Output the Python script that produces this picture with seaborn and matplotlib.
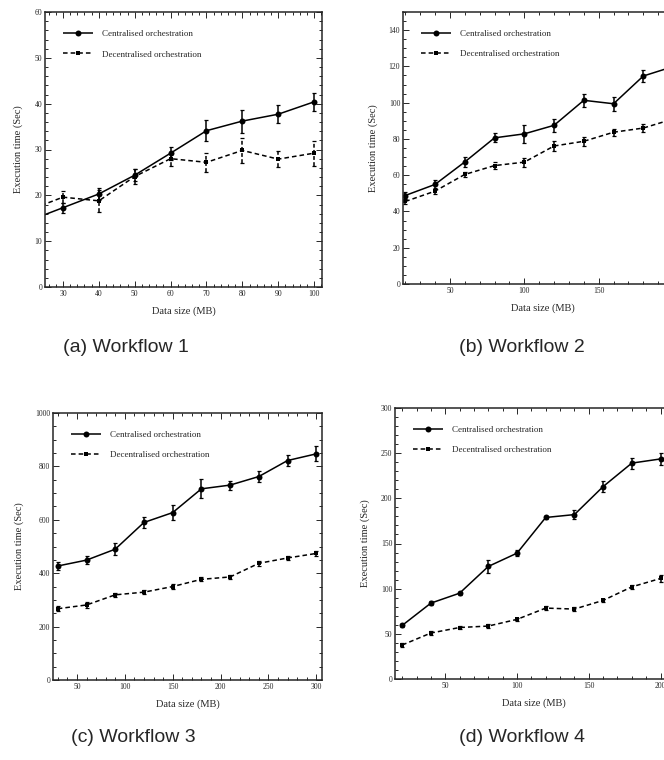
"""Execution time vs data size for four workflows (centralised vs decentralised)."""
import pandas as pd
import seaborn as sns
import matplotlib
matplotlib.use("Agg")
import matplotlib.pyplot as plt
from matplotlib.ticker import AutoMinorLocator, MultipleLocator

SCHEMES = ["Centralised orchestration", "Decentralised orchestration"]

# workflow 1 (first point sits left of the visible axis range)
wf1_size = [20, 30, 40, 50, 60, 70, 80, 90, 100]
wf1_cen = [14.3, 17.3, 20.3, 24.4, 29.2, 34.1, 36.2, 37.7, 40.4]
wf1_cen_err = [1.0, 1.1, 1.3, 1.3, 1.45, 2.3, 2.5, 2.0, 2.0]
wf1_dec = [16.6, 19.6, 18.8, 24.1, 28.0, 27.2, 29.8, 27.9, 29.2]
wf1_dec_err = [1.0, 1.3, 2.4, 1.6, 1.5, 2.1, 2.7, 1.8, 2.7]

# workflow 2
wf2_size = [20, 40, 60, 80, 100, 120, 140, 160, 180, 200]
wf2_cen = [48.8, 54.9, 67.3, 80.6, 82.8, 87.5, 101.3, 99.4, 114.7, 119.9]
wf2_cen_err = [2.0, 2.5, 3.0, 2.5, 5.0, 3.5, 3.5, 4.0, 3.5, 3.0]
wf2_dec = [45.5, 51.2, 60.4, 65.3, 67.2, 76.1, 78.7, 83.7, 86.0, 91.0]
wf2_dec_err = [1.2, 1.5, 1.2, 2.0, 2.5, 3.0, 2.5, 2.0, 2.0, 2.0]

# workflow 3
wf3_size = [30, 60, 90, 120, 150, 180, 210, 240, 270, 300]
wf3_cen = [427, 449, 490, 590, 627, 716, 730, 762, 822, 847]
wf3_cen_err = [15, 15, 22, 20, 28, 35, 17, 22, 20, 28]
wf3_dec = [267, 281, 319, 329, 350, 377, 386, 437, 457, 474]
wf3_dec_err = [10, 10, 8, 8, 8, 8, 8, 10, 8, 10]

# workflow 4
wf4_size = [20, 40, 60, 80, 100, 120, 140, 160, 180, 200]
wf4_cen = [59.3, 84.0, 95.0, 124.6, 139.3, 178.8, 182.0, 213.0, 239.0, 243.6]
wf4_cen_err = [1.5, 2.0, 1.5, 7.0, 3.0, 2.0, 5.0, 6.5, 6.0, 7.0]
wf4_dec = [37.6, 50.9, 57.0, 58.6, 66.0, 78.5, 77.4, 87.0, 102.0, 111.3]
wf4_dec_err = [2.0, 2.0, 2.0, 2.0, 2.0, 2.0, 2.0, 2.0, 2.0, 4.0]

CAPTIONS = ["(a) Workflow 1", "(b) Workflow 2", "(c) Workflow 3", "(d) Workflow 4"]

W, H = 664, 760


def px_rect(left, top, right, bottom):
    return [left / W, 1 - bottom / H, (right - left) / W, (bottom - top) / H]


PANELS = [
    dict(size=wf1_size, cen=wf1_cen, ce=wf1_cen_err, dec=wf1_dec, de=wf1_dec_err,
         rect=px_rect(45, 12, 322, 287), xlim=(25, 102.2), ylim=(0, 60),
         xmaj=10, xmin=5, ymaj=10, ymin=5, cap=(126, 348)),
    dict(size=wf2_size, cen=wf2_cen, ce=wf2_cen_err, dec=wf2_dec, de=wf2_dec_err,
         rect=px_rect(403, 12, 682, 284), xlim=(18.5, 206), ylim=(0, 150),
         xmaj=50, xmin=5, ymaj=20, ymin=4, cap=(522, 348)),
    dict(size=wf3_size, cen=wf3_cen, ce=wf3_cen_err, dec=wf3_dec, de=wf3_dec_err,
         rect=px_rect(53, 413, 322, 680), xlim=(25, 306), ylim=(0, 1000),
         xmaj=50, xmin=5, ymaj=200, ymin=4, cap=(133, 738)),
    dict(size=wf4_size, cen=wf4_cen, ce=wf4_cen_err, dec=wf4_dec, de=wf4_dec_err,
         rect=px_rect(395, 408, 672, 679), xlim=(15, 208), ylim=(0, 300),
         xmaj=50, xmin=5, ymaj=50, ymin=5, cap=(522, 738)),
]


def main():
    sns.set_theme(style="ticks")
    plt.rcParams["font.family"] = ["Liberation Serif", "DejaVu Serif"]
    plt.rcParams["axes.linewidth"] = 1.0

    fig = plt.figure(figsize=(W / 100, H / 100), dpi=100)
    fig.patch.set_facecolor("white")

    for p, cap in zip(PANELS, CAPTIONS):
        ax = fig.add_axes(p["rect"])
        df = pd.DataFrame({
            "size": list(p["size"]) * 2,
            "time": list(p["cen"]) + list(p["dec"]),
            "scheme": [SCHEMES[0]] * len(p["size"]) + [SCHEMES[1]] * len(p["size"]),
        })
        sns.lineplot(data=df, x="size", y="time", hue="scheme", style="scheme",
                     palette=["black", "black"], dashes=[(1, 0), (3, 2)],
                     markers=["o", "s"], markersize=4.3, markeredgewidth=0,
                     linewidth=1.1, ax=ax, legend=True)
        # smaller squares for the decentralised series
        ax.lines[1].set_markersize(3.0)
        ax.errorbar(p["size"], p["cen"], yerr=p["ce"], fmt="none", ecolor="black",
                    elinewidth=1.1, capsize=1.5, capthick=0.9)
        eb = ax.errorbar(p["size"], p["dec"], yerr=p["de"], fmt="none", ecolor="black",
                         elinewidth=1.1, capsize=1.2, capthick=0.9)
        eb[2][0].set_linestyle((0, (2.5, 1.5)))

        ax.set_xlim(*p["xlim"])
        ax.set_ylim(*p["ylim"])
        ax.xaxis.set_major_locator(MultipleLocator(p["xmaj"]))
        ax.xaxis.set_minor_locator(AutoMinorLocator(p["xmin"]))
        ax.yaxis.set_major_locator(MultipleLocator(p["ymaj"]))
        ax.yaxis.set_minor_locator(AutoMinorLocator(p["ymin"]))
        ax.tick_params(which="both", direction="in", top=True, right=True,
                       labelsize=5.5, pad=2, width=0.7)
        ax.tick_params(which="major", length=4)
        ax.tick_params(which="minor", length=2)
        for s in ax.spines.values():
            s.set_linewidth(1.1)

        ax.set_xlabel("Data size (MB)", fontsize=7.5, labelpad=6)
        ax.set_ylabel("Execution time (Sec)", fontsize=7.5, labelpad=8)

        leg = ax.legend(loc="upper left", frameon=False, fontsize=6.5, handlelength=3.3,
                        handletextpad=1.0, labelspacing=1.3, borderaxespad=1.0,
                        bbox_to_anchor=(0.02, 0.98))
        for h, ms in zip(leg.legend_handles, [4.3, 3.0]):
            h.set_linewidth(1.1)
            h.set_markersize(ms)

        x, y = p["cap"]
        fig.text(x / W, 1 - y / H, cap, ha="center", va="center", fontsize=14,
                 family=["Liberation Sans", "DejaVu Sans"])

    fig.savefig("out.png", dpi=100, facecolor="white")
    plt.close(fig)


if __name__ == "__main__":
    main()
